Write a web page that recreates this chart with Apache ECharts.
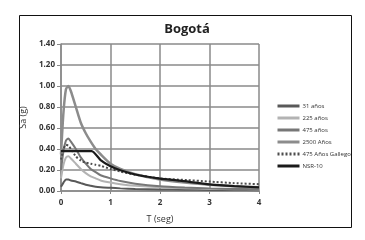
<!DOCTYPE html>
<html>
<head>
<meta charset="utf-8">
<script src="https://cdn.jsdelivr.net/npm/echarts@6/dist/echarts.min.js"></script>
<style>
  html, body { margin: 0; padding: 0; background: #fff; }
  #chart { width: 365px; height: 240px; }
</style>
</head>
<body>
<div id="chart"></div>
<script>
  // periodos (s)
  var periodos = [0, 0.05, 0.1, 0.15, 0.2, 0.3, 0.4, 0.5, 0.6, 0.7, 0.8, 1.0, 1.2, 1.5, 2.0, 2.5, 3.0, 3.5, 4.0];

  var sa31 = [0.04, 0.08, 0.11, 0.11, 0.10, 0.09, 0.075, 0.06, 0.05, 0.04, 0.035, 0.03, 0.025, 0.02, 0.015, 0.012, 0.01, 0.009, 0.008];
  var sa225 = [0.12, 0.25, 0.32, 0.33, 0.31, 0.26, 0.21, 0.17, 0.14, 0.12, 0.10, 0.08, 0.065, 0.05, 0.035, 0.027, 0.02, 0.017, 0.014];
  var sa475 = [0.20, 0.38, 0.48, 0.50, 0.47, 0.40, 0.32, 0.26, 0.21, 0.18, 0.15, 0.12, 0.095, 0.07, 0.045, 0.033, 0.025, 0.02, 0.016];
  var sa2500 = [0.35, 0.75, 0.97, 1.00, 0.95, 0.80, 0.65, 0.55, 0.47, 0.40, 0.35, 0.26, 0.21, 0.16, 0.11, 0.08, 0.06, 0.045, 0.035];
  var saGallego = [0.30, 0.40, 0.44, 0.43, 0.40, 0.33, 0.29, 0.27, 0.26, 0.25, 0.24, 0.21, 0.185, 0.155, 0.12, 0.105, 0.09, 0.075, 0.065];

  var periodosNsr = [0, 0.62, 0.8, 1.0, 1.2, 1.5, 2.0, 2.4, 3.0, 3.5, 4.0];
  var saNsr = [0.38, 0.38, 0.295, 0.236, 0.197, 0.157, 0.118, 0.098, 0.063, 0.046, 0.035];

  function pares(xs, ys) {
    return xs.map(function (x, i) { return [x, ys[i]]; });
  }

  var fuente = '"Open Sans", "DejaVu Sans", sans-serif';

  function serie(nombre, xs, ys, color, ancho, tipo) {
    return {
      name: nombre,
      type: 'line',
      data: pares(xs, ys),
      symbol: 'none',
      smooth: 0.2,
      lineStyle: { color: color, width: ancho, type: tipo || 'solid' },
      itemStyle: { color: color },
      z: 3
    };
  }

  var chart = echarts.init(document.getElementById('chart'));
  chart.setOption({
    animation: false,
    backgroundColor: '#fff',
    title: {
      text: 'Bogotá',
      left: 182,
      top: 18,
      textAlign: 'center',
      textStyle: { fontFamily: fuente, fontSize: 13, fontWeight: 'bold', color: '#222' }
    },
    graphic: [{
      type: 'rect',
      left: 17, top: 13,
      shape: { width: 332, height: 212 },
      style: { fill: 'none', stroke: '#111', lineWidth: 1 },
      silent: true
    }],
    legend: {
      orient: 'vertical',
      left: 271,
      top: 98,
      itemWidth: 22,
      itemHeight: 6,
      itemGap: 6,
      itemStyle: { opacity: 0 },
      lineStyle: { width: 3 },
      textStyle: { fontFamily: fuente, fontSize: 6, color: '#333', padding: [0, 0, 0, -2] },
      data: ['31 años', '225 años', '475 años', '2500 Años', '475 Años Gallego', 'NSR-10']
    },
    grid: { left: 61, top: 44, width: 198, height: 147 },
    xAxis: {
      type: 'value',
      min: 0, max: 4, interval: 1,
      name: 'T (seg)',
      nameLocation: 'middle',
      nameGap: 24,
      nameTextStyle: { fontFamily: fuente, fontSize: 9, color: '#333' },
      axisLine: { lineStyle: { color: '#8a8a8a', width: 1.5 } },
      axisTick: { show: true, length: 3, lineStyle: { color: '#8a8a8a' } },
      axisLabel: { fontFamily: fuente, fontSize: 8, fontWeight: 'bold', color: '#333', margin: 8 },
      splitLine: { lineStyle: { color: '#8a8a8a', width: 1.5 } }
    },
    yAxis: {
      type: 'value',
      min: 0, max: 1.4, interval: 0.2,
      name: 'Sa (g)',
      nameLocation: 'middle',
      nameGap: 32,
      nameTextStyle: { fontFamily: fuente, fontSize: 9, color: '#333' },
      axisLine: { show: true, lineStyle: { color: '#8a8a8a', width: 1.5 } },
      axisTick: { show: true, length: 4, lineStyle: { color: '#8a8a8a' } },
      axisLabel: {
        fontFamily: fuente, fontSize: 8, fontWeight: 'bold', color: '#333', margin: 6,
        formatter: function (v) { return v.toFixed(2); }
      },
      splitLine: { lineStyle: { color: '#8a8a8a', width: 1.5 } }
    },
    series: [
      serie('31 años', periodos, sa31, '#595959', 2),
      serie('225 años', periodos, sa225, '#b3b3b3', 2),
      serie('475 años', periodos, sa475, '#777777', 2),
      serie('2500 Años', periodos, sa2500, '#8c8c8c', 2.5),
      serie('475 Años Gallego', periodos, saGallego, '#4d4d4d', 2, [2, 2]),
      serie('NSR-10', periodosNsr, saNsr, '#1a1a1a', 2.2)
    ]
  });
</script>
</body>
</html>
